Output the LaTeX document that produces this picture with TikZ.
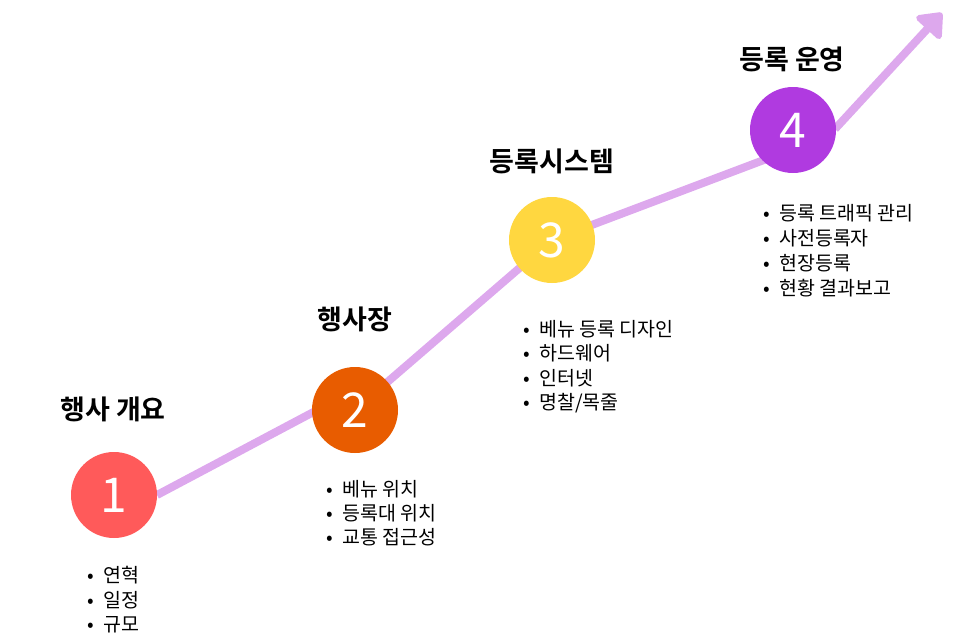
\documentclass[tikz,border=0pt]{standalone}
\usepackage{fontspec}
\setmainfont{Noto Sans CJK KR}
\newfontfamily\boldkr{Noto Sans CJK KR Bold}
\usetikzlibrary{arrows.meta}
\definecolor{linec}{HTML}{DDA8ED}
\definecolor{cone}{HTML}{FF5A5A}
\definecolor{ctwo}{HTML}{E85C00}
\definecolor{cthree}{HTML}{FFD740}
\definecolor{cfour}{HTML}{B03AE0}
\tikzset{
  stepcircle/.style={circle, minimum size=86pt, inner sep=0pt, text=white, font=\fontsize{48}{50}\selectfont},
  title/.style={font=\boldkr\fontsize{27}{30}\selectfont, inner sep=0pt},
  item/.style={anchor=west, inner sep=0pt, font=\fontsize{19.5}{22}\selectfont},
  conn/.style={linec, line width=8pt},
}
\begin{document}
\begin{tikzpicture}[x=1pt,y=-1pt]
\useasboundingbox (0,0) rectangle (955,642);
\coordinate (c1) at (114,495);
\coordinate (c2) at (355,410);
\coordinate (c3) at (552,240);
\coordinate (c4) at (793,130);
\coordinate (p1) at (157,495);
\coordinate (p2) at (355,390);
\coordinate (p4) at (793,149);
\coordinate (p5) at (835,129);
\coordinate (tip) at (942,13);
\draw[conn] (p1) -- (p2);
\draw[conn] (c2) -- (c3) -- (p4);
\draw[conn, -{Triangle[round,length=24pt,width=38pt]}] (p5) -- (tip);
\node[stepcircle, fill=cone] (n1) at (c1) {1};
\node[stepcircle, fill=ctwo] (n2) at (c2) {2};
\node[stepcircle, fill=cthree] (n3) at (c3) {3};
\node[stepcircle, fill=cfour] (n4) at (c4) {4};
\node[title] (t1) at (113,409) {행사 개요};
\node[title] (t2) at (355,319) {행사장};
\node[title] (t3) at (552,161) {등록시스템};
\node[title] (t4) at (792,59) {등록 운영};
% list 1
\node[item] (a1) at (87,575) {\makebox[16pt][l]{•}연혁};
\node[item] (a2) at (87,600) {\makebox[16pt][l]{•}일정};
\node[item] (a3) at (87,625) {\makebox[16pt][l]{•}규모};
% list 2
\node[item] (b1) at (326,489) {\makebox[16pt][l]{•}베뉴 위치};
\node[item] (b2) at (326,513) {\makebox[16pt][l]{•}등록대 위치};
\node[item] (b3) at (326,537) {\makebox[16pt][l]{•}교통 접근성};
% list 3
\node[item] (d1) at (523,329) {\makebox[16pt][l]{•}베뉴 등록 디자인};
\node[item] (d2) at (523,353) {\makebox[16pt][l]{•}하드웨어};
\node[item] (d3) at (523,378) {\makebox[16pt][l]{•}인터넷};
\node[item] (d4) at (523,403) {\makebox[16pt][l]{•}명찰/목줄};
% list 4
\node[item] (e1) at (763,213) {\makebox[16pt][l]{•}등록 트래픽 관리};
\node[item] (e2) at (763,238) {\makebox[16pt][l]{•}사전등록자};
\node[item] (e3) at (763,263) {\makebox[16pt][l]{•}현장등록};
\node[item] (e4) at (763,288) {\makebox[16pt][l]{•}현황 결과보고};
\end{tikzpicture}
\end{document}
